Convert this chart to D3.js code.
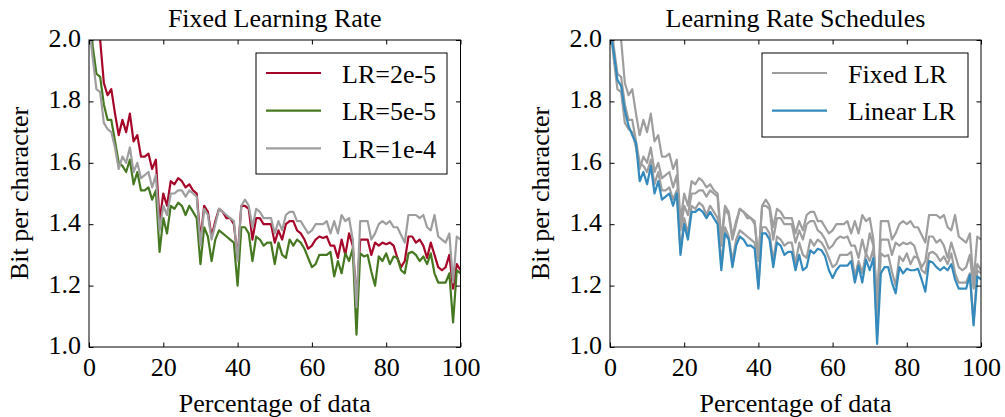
<!DOCTYPE html>
<html>
<head>
<meta charset="utf-8">
<script src="https://cdn.jsdelivr.net/npm/d3@7"></script>
<style>
body { margin: 0; background: #fff; }
text { font-family: "Liberation Serif", "Times New Roman", serif; font-size: 26px; fill: #000; }
</style>
</head>
<body>
<svg id="chart" width="1005" height="417"></svg>
<script>
// DATA: bits per character vs percentage of data seen (one point per percent)
const pct = d3.range(0, 101);

const lr2e5 = [
  2.30, 2.18, 2.09, 2.00, 1.86, 1.82, 1.84, 1.76, 1.69, 1.74,
  1.70, 1.76, 1.67, 1.69, 1.62, 1.62, 1.63, 1.58, 1.61, 1.41,
  1.50, 1.46, 1.54, 1.53, 1.55, 1.54, 1.52, 1.53, 1.51, 1.50,
  1.35, 1.46, 1.44, 1.36, 1.41, 1.45, 1.44, 1.42, 1.42, 1.40,
  1.29, 1.46, 1.46, 1.45, 1.35, 1.42, 1.42, 1.40, 1.40, 1.40,
  1.34, 1.38, 1.35, 1.40, 1.41, 1.41, 1.38, 1.37, 1.35, 1.32,
  1.33, 1.35, 1.36, 1.355, 1.36, 1.33, 1.33, 1.29, 1.35, 1.30,
  1.37, 1.33, 1.15, 1.35, 1.35, 1.35, 1.30, 1.34, 1.33, 1.34,
  1.335, 1.34, 1.33, 1.29, 1.26, 1.28, 1.36, 1.36, 1.34, 1.35,
  1.33, 1.29, 1.34, 1.30, 1.26, 1.25, 1.26, 1.30, 1.19, 1.27,
  1.25
];

const lr5e5 = [
  2.10, 1.98, 1.89, 1.88, 1.79, 1.74, 1.74, 1.67, 1.60, 1.59,
  1.57, 1.61, 1.53, 1.57, 1.51, 1.51, 1.52, 1.48, 1.51, 1.31,
  1.42, 1.37, 1.46, 1.45, 1.47, 1.46, 1.43, 1.46, 1.44, 1.42,
  1.27, 1.39, 1.36, 1.28, 1.35, 1.38, 1.37, 1.36, 1.35, 1.34,
  1.20, 1.39, 1.39, 1.37, 1.28, 1.36, 1.35, 1.33, 1.34, 1.34,
  1.27, 1.34, 1.30, 1.29, 1.35, 1.33, 1.35, 1.34, 1.32, 1.29,
  1.26, 1.27, 1.30, 1.30, 1.30, 1.31, 1.23, 1.28, 1.24, 1.305,
  1.28, 1.32, 1.04, 1.305, 1.295, 1.30, 1.245, 1.20, 1.295, 1.28,
  1.305, 1.27, 1.295, 1.29, 1.25, 1.24, 1.305, 1.31, 1.30, 1.28,
  1.295, 1.27, 1.305, 1.24, 1.21, 1.21, 1.21, 1.24, 1.08, 1.25,
  1.24
];

const lr1e4 = [
  2.05, 1.94, 1.84, 1.83, 1.73, 1.71, 1.70, 1.65, 1.58, 1.62,
  1.60, 1.65, 1.57, 1.60, 1.55, 1.56, 1.57, 1.52, 1.56, 1.38,
  1.46, 1.43, 1.50, 1.50, 1.51, 1.51, 1.49, 1.51, 1.50, 1.49,
  1.33, 1.45, 1.43, 1.35, 1.40, 1.45, 1.44, 1.43, 1.42, 1.41,
  1.28, 1.46, 1.48, 1.46, 1.39, 1.45, 1.44, 1.42, 1.42, 1.42,
  1.37, 1.41, 1.38, 1.43, 1.44, 1.44, 1.41, 1.41, 1.39, 1.37,
  1.38, 1.40, 1.40, 1.40, 1.41, 1.37, 1.41, 1.37, 1.43, 1.41,
  1.42, 1.35, 1.13, 1.41, 1.41, 1.41, 1.35, 1.37, 1.40, 1.41,
  1.40, 1.41, 1.39, 1.39, 1.365, 1.34, 1.43, 1.43, 1.43, 1.42,
  1.43, 1.39, 1.38, 1.43, 1.36, 1.35, 1.34, 1.37, 1.21, 1.36,
  1.35
];

const linearLR = [
  2.04, 1.96, 1.87, 1.85, 1.77, 1.72, 1.69, 1.665, 1.54, 1.57,
  1.53, 1.59, 1.50, 1.54, 1.48, 1.49, 1.50, 1.46, 1.50, 1.30,
  1.40, 1.35, 1.44, 1.44, 1.45, 1.44, 1.42, 1.44, 1.42, 1.40,
  1.25, 1.37, 1.35, 1.26, 1.33, 1.36, 1.35, 1.33, 1.33, 1.32,
  1.19, 1.37, 1.37, 1.35, 1.26, 1.34, 1.33, 1.30, 1.31, 1.31,
  1.25, 1.30, 1.25, 1.26, 1.315, 1.305, 1.32, 1.315, 1.295, 1.25,
  1.225, 1.25, 1.265, 1.265, 1.265, 1.28, 1.21, 1.265, 1.21, 1.285,
  1.25, 1.29, 1.01, 1.24, 1.26, 1.26, 1.21, 1.175, 1.26, 1.24,
  1.255, 1.25, 1.25, 1.255, 1.22, 1.18, 1.28, 1.275, 1.26, 1.25,
  1.26, 1.25, 1.27, 1.22, 1.19, 1.19, 1.19, 1.235, 1.07, 1.23,
  1.22
];

const fixedLabels = ["LR=2e-5", "LR=5e-5", "LR=1e-4"];
const scheduleLabels = ["Fixed LR", "Linear LR"];
const titles = ["Fixed Learning Rate", "Learning Rate Schedules"];
const xTicks = [0, 20, 40, 60, 80, 100];
const yTicks = [1.0, 1.2, 1.4, 1.6, 1.8, 2.0];

// colours
const RED = "#A60628", GREEN = "#467821", GRAY = "#9e9e9e", BLUE = "#348ABD";
const SERIF = '"Liberation Serif", "Times New Roman", serif';

const svg = d3.select("#chart");
const plotTop = 40, plotBottom = 347, tick = 4.5;

function drawPanel(id, left, right, title, series, legend, box) {
    const x = d3.scaleLinear().domain([0, 100]).range([left, right]);
    const y = d3.scaleLinear().domain([1.0, 2.0]).range([plotBottom, plotTop]);
    const g = svg.append("g");

    g.append("clipPath").attr("id", "clip" + id)
        .append("rect")
        .attr("x", left).attr("y", plotTop)
        .attr("width", right - left).attr("height", plotBottom - plotTop);

    const line = d3.line()
        .x((d, i) => x(pct[i]))
        .y(d => y(d));

    g.append("g").attr("clip-path", `url(#clip${id})`)
        .selectAll("path")
        .data(series)
        .enter().append("path")
        .attr("d", d => line(d.values))
        .attr("fill", "none")
        .attr("stroke", d => d.color)
        .attr("stroke-width", 2.2)
        .attr("stroke-linejoin", "round");

    // axes with inward ticks on all four sides
    const styleAxis = sel => {
        sel.attr("font-family", SERIF).attr("font-size", 26);
        sel.select(".domain").remove();
        sel.selectAll("line").attr("stroke", "#000").attr("stroke-width", 1);
        sel.selectAll("text").style("font-family", SERIF).style("font-size", "26px");
    };
    g.append("g").attr("transform", `translate(${left},0)`)
        .call(d3.axisLeft(y).tickValues(yTicks).tickSize(-tick).tickPadding(8).tickFormat(d3.format(".1f")))
        .call(styleAxis)
        .selectAll("text").attr("dy", "0.25em");
    g.append("g").attr("transform", `translate(${right},0)`)
        .call(d3.axisRight(y).tickValues(yTicks).tickSize(-tick).tickFormat(""))
        .call(styleAxis);
    g.append("g").attr("transform", `translate(0,${plotBottom})`)
        .call(d3.axisBottom(x).tickValues(xTicks).tickSize(-tick).tickPadding(11).tickFormat(d3.format("d")))
        .call(styleAxis);
    g.append("g").attr("transform", `translate(0,${plotTop})`)
        .call(d3.axisTop(x).tickValues(xTicks).tickSize(-tick).tickFormat(""))
        .call(styleAxis);

    g.append("rect")
        .attr("x", left).attr("y", plotTop)
        .attr("width", right - left).attr("height", plotBottom - plotTop)
        .attr("fill", "none").attr("stroke", "#000").attr("stroke-width", 1);

    g.append("text")
        .attr("x", (left + right) / 2).attr("y", 27)
        .attr("text-anchor", "middle").text(title);
    g.append("text")
        .attr("x", (left + right) / 2).attr("y", 412)
        .attr("text-anchor", "middle").text("Percentage of data");
    g.append("text")
        .attr("transform", `translate(${left - 61},${(plotTop + plotBottom) / 2}) rotate(-90)`)
        .attr("text-anchor", "middle").text("Bit per character");

    // legend
    const lg = g.append("g");
    lg.append("rect")
        .attr("x", box.x).attr("y", box.y)
        .attr("width", box.w).attr("height", box.h)
        .attr("fill", "#fff").attr("stroke", "#000").attr("stroke-width", 1);
    const items = lg.selectAll("g.item").data(legend).enter().append("g")
        .attr("transform", (d, i) => `translate(${box.x},${box.y + 20 + i * 37.7})`);
    items.append("line")
        .attr("x1", 10).attr("x2", 65)
        .attr("stroke", d => d.color).attr("stroke-width", 2.2);
    items.append("text")
        .attr("x", 86).attr("y", 9.5)
        .text(d => d.label);
}

// Panel 1: fixed learning rates
drawPanel(1, 89, 460.5, titles[0],
    [{values: lr2e5, color: RED}, {values: lr5e5, color: GREEN}, {values: lr1e4, color: GRAY}],
    [{label: fixedLabels[0], color: RED}, {label: fixedLabels[1], color: GREEN}, {label: fixedLabels[2], color: GRAY}],
    {x: 256, y: 53, w: 191, h: 121});

// Panel 2: fixed vs linear schedule
drawPanel(2, 610, 981, titles[1],
    [{values: lr2e5, color: GRAY}, {values: lr5e5, color: GRAY}, {values: lr1e4, color: GRAY}, {values: linearLR, color: BLUE}],
    [{label: scheduleLabels[0], color: GRAY}, {label: scheduleLabels[1], color: BLUE}],
    {x: 762, y: 53, w: 206, h: 84});
</script>
</body>
</html>
